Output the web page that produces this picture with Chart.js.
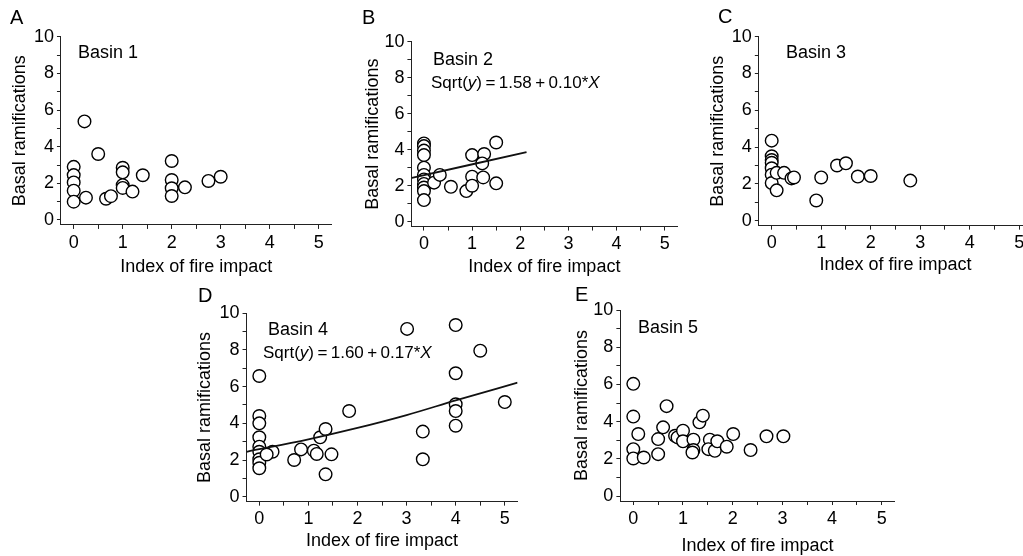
<!DOCTYPE html>
<html>
<head>
<meta charset="utf-8">
<script src="https://cdn.jsdelivr.net/npm/chart.js@4.4.1/dist/chart.umd.min.js"></script>
<style>
  html, body { margin: 0; padding: 0; background: #fff; }
  body { position: relative; width: 1023px; height: 556px; overflow: hidden;
         font-family: "Liberation Sans", Arial, Helvetica, sans-serif; color: #000; }
  canvas { position: absolute; }
  .lbl { position: absolute; line-height: 1; white-space: nowrap; }
</style>
</head>
<body>
<canvas id="panelA"></canvas>
<canvas id="panelB"></canvas>
<canvas id="panelC"></canvas>
<canvas id="panelD"></canvas>
<canvas id="panelE"></canvas>
<script>
/* Basal ramifications vs index of fire impact, five basins */

var xTickLabels = ['0', '1', '2', '3', '4', '5'];
var yTickLabels = ['0', '2', '4', '6', '8', '10'];

var basin1X = [0, 0, 0, 0, 0, 0.22, 0.25, 0.5, 0.66, 0.76, 1, 1, 1, 1, 1.2, 1.41, 2, 2, 2, 2, 2.27, 2.75, 3];
var basin1Y = [2.9, 2.45, 2.05, 1.6, 1.0, 5.38, 1.22, 3.6, 1.16, 1.3, 2.85, 2.6, 1.9, 1.75, 1.55, 2.44, 3.22, 2.18, 1.73, 1.31, 1.78, 2.13, 2.36];

var basin2X = [0, 0, 0, 0, 0, 0, 0, 0, 0, 0, 0, 0.21, 0.33, 0.56, 0.88, 1, 1, 1, 1.25, 1.21, 1.23, 1.5, 1.5];
var basin2Y = [4.35, 4.2, 3.95, 3.7, 3.0, 2.6, 2.35, 2.1, 1.9, 1.7, 1.2, 2.17, 2.6, 1.94, 1.7, 3.7, 2.5, 2.0, 3.76, 3.24, 2.46, 4.4, 2.13];
var fit2X = [-0.25, 2.13];
var fit2Y = [2.43, 3.87];

var basin3X = [0, 0, 0, 0, 0, 0, 0, 0.1, 0.1, 0.25, 0.4, 0.45, 0.9, 1.0, 1.32, 1.5, 1.74, 2.0, 2.8];
var basin3Y = [4.35, 3.5, 3.3, 3.15, 2.85, 2.5, 2.05, 2.6, 1.65, 2.6, 2.3, 2.35, 1.1, 2.35, 3.0, 3.12, 2.4, 2.43, 2.18];

var basin4X = [3.01, 4, 4.5, 0, 4, 5, 4, 4, 4, 1.83, 0, 0, 0, 0, 0, 0, 0, 0, 0.27, 0.15, 0.71, 0.85, 1.11, 1.17, 1.24, 1.35, 1.47, 1.35, 3.33, 3.33];
var basin4Y = [9.15, 9.36, 7.96, 6.58, 6.73, 5.16, 5.04, 4.67, 3.87, 4.67, 4.4, 4.0, 3.24, 2.73, 2.45, 2.04, 1.85, 1.55, 2.45, 2.3, 2.0, 2.58, 2.51, 2.33, 3.24, 3.69, 2.31, 1.22, 3.55, 2.04];
var fit4X = [-0.26, 1, 2, 3, 4, 5.26];
var fit4Y = [2.45, 3.13, 3.75, 4.45, 5.25, 6.22];

var basin5X = [0, 0, 0.1, 0, 0, 0.21, 0.5, 0.5, 0.6, 0.67, 0.84, 0.89, 1.0, 1.0, 1.21, 1.21, 1.19, 1.33, 1.4, 1.54, 1.51, 1.64, 1.69, 1.88, 2.01, 2.36, 2.68, 3.02];
var basin5Y = [6.03, 4.27, 3.33, 2.52, 2.02, 2.07, 2.25, 3.06, 3.69, 4.83, 3.24, 3.15, 3.51, 2.94, 3.03, 2.47, 2.34, 3.96, 4.32, 3.03, 2.52, 2.43, 2.94, 2.65, 3.33, 2.47, 3.21, 3.21];

var X_MIN = -0.26, X_MAX = 5.26, Y_MIN = -0.27, Y_MAX = 10;

Chart.defaults.font.family = '"Liberation Sans", Arial, Helvetica, sans-serif';
Chart.defaults.color = '#000';

function pts(xs, ys) {
  var out = [];
  for (var i = 0; i < xs.length; i++) out.push({ x: xs[i], y: ys[i] });
  return out;
}

function labelFor(list, v) {
  var s = String(v);
  return list.indexOf(s) >= 0 ? s : '';
}

// g: x0/y0 = pixel of value 0, ux/uy = pixels per unit, box = canvas rect
function panel(id, g, xs, ys, fx, fy) {
  var box = g.box;
  var cv = document.getElementById(id);
  cv.width = box.w;
  cv.height = box.h;
  cv.style.left = box.x + 'px';
  cv.style.top = box.y + 'px';

  var left = g.x0 + X_MIN * g.ux;
  var right = g.x0 + X_MAX * g.ux;
  var top = g.y0 - Y_MAX * g.uy;
  var bottom = g.y0 - Y_MIN * g.uy;

  var datasets = [];
  if (fx) {
    datasets.push({
      type: 'line',
      data: pts(fx, fy),
      borderColor: '#111',
      borderWidth: 1.8,
      pointRadius: 0,
      fill: false,
      tension: 0.4,
      cubicInterpolationMode: 'monotone'
    });
  }
  datasets.push({
    type: 'scatter',
    data: pts(xs, ys),
    pointRadius: 6.3,
    borderWidth: 1.4,
    borderColor: '#000',
    backgroundColor: '#fff'
  });

  var axisColor = '#222';

  new Chart(cv, {
    type: 'scatter',
    data: { datasets: datasets },
    options: {
      responsive: false,
      animation: false,
      devicePixelRatio: 1,
      layout: { padding: { left: 0, top: top - box.y, right: box.x + box.w - right, bottom: 0 } },
      plugins: { legend: { display: false }, tooltip: { enabled: false } },
      scales: {
        x: {
          type: 'linear', min: X_MIN, max: X_MAX,
          border: { display: true, color: axisColor, width: 1 },
          grid: { drawOnChartArea: false, drawTicks: true, tickLength: 4, color: axisColor },
          ticks: {
            stepSize: 0.5, includeBounds: false, autoSkip: false, maxRotation: 0,
            padding: 3, font: { size: 18 }, color: '#000',
            callback: function (v) { return labelFor(xTickLabels, v); }
          },
          title: { display: true, text: 'Index of fire impact', font: { size: 18 }, color: '#000',
                   padding: { top: 0, bottom: g.xtp } },
          afterFit: function (s) { s.height = box.y + box.h - bottom; }
        },
        y: {
          type: 'linear', min: Y_MIN, max: Y_MAX,
          border: { display: true, color: axisColor, width: 1 },
          grid: { drawOnChartArea: false, drawTicks: true, tickLength: 4, color: axisColor },
          ticks: {
            stepSize: 1, includeBounds: false, autoSkip: false,
            padding: 3, font: { size: 18 }, color: '#000',
            callback: function (v) { return labelFor(yTickLabels, v); }
          },
          title: { display: true, text: 'Basal ramifications', font: { size: 18 }, color: '#000',
                   padding: { top: g.ytp, bottom: 0 } },
          afterFit: function (s) { s.width = left - box.x; }
        }
      }
    }
  });
}

panel('panelA', { box: { x: 0, y: 0, w: 340, h: 280 }, x0: 73.7, ux: 49, y0: 220, uy: 18.33, ytp: 9.2, xtp: 2.5 },
  basin1X, basin1Y);
panel('panelB', { box: { x: 340, y: 0, w: 345, h: 280 }, x0: 424, ux: 48.4, y0: 221.7, uy: 18.0, ytp: 22.2, xtp: 2.5 },
  basin2X, basin2Y, fit2X, fit2Y);
panel('panelC', { box: { x: 680, y: 0, w: 370, h: 280 }, x0: 771.7, ux: 49.5, y0: 220.7, uy: 18.4, ytp: 27.7, xtp: 4.2 },
  basin3X, basin3Y);
panel('panelD', { box: { x: 180, y: 270, w: 360, h: 286 }, x0: 259.3, ux: 49.1, y0: 496.7, uy: 18.34, ytp: 14.2, xtp: 3.7 },
  basin4X, basin4Y, fit4X, fit4Y);
panel('panelE', { box: { x: 560, y: 270, w: 345, h: 290 }, x0: 633.3, ux: 49.7, y0: 496, uy: 18.6, ytp: 10.9, xtp: 3.2 },
  basin5X, basin5Y);

// panel letters, basin names and fitted equations (cap-top placement)
var texts = [
  { h: 'A', x: 10, cap: 10, s: 20 },
  { h: 'B', x: 362, cap: 10, s: 20 },
  { h: 'C', x: 718, cap: 9, s: 20 },
  { h: 'D', x: 198, cap: 288, s: 20 },
  { h: 'E', x: 575, cap: 287, s: 20 },
  { h: 'Basin 1', x: 78, cap: 45.3, s: 18 },
  { h: 'Basin 2', x: 433, cap: 51.9, s: 18 },
  { h: 'Basin 3', x: 786, cap: 45.3, s: 18 },
  { h: 'Basin 4', x: 268, cap: 322.5, s: 18 },
  { h: 'Basin 5', x: 638, cap: 320.2, s: 18 },
  { h: 'Sqrt(<i>y</i>)\u2009=\u20091.58\u2009+\u20090.10*<i>X</i>', x: 431, cap: 76.4, s: 17 },
  { h: 'Sqrt(<i>y</i>)\u2009=\u20091.60\u2009+\u20090.17*<i>X</i>', x: 263, cap: 346.6, s: 17 }
];
texts.forEach(function (t) {
  var d = document.createElement('div');
  d.className = 'lbl';
  d.innerHTML = t.h;
  d.style.left = t.x + 'px';
  d.style.top = (t.cap - 0.13 * t.s) + 'px';
  d.style.fontSize = t.s + 'px';
  document.body.appendChild(d);
});
</script>
</body>
</html>
